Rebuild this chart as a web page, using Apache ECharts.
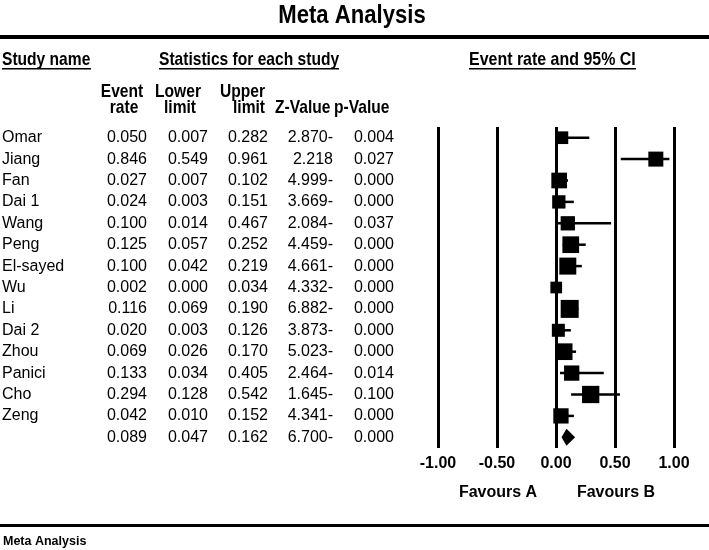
<!DOCTYPE html>
<html>
<head>
<meta charset="utf-8">
<script src="https://cdn.jsdelivr.net/npm/echarts@6/dist/echarts.min.js"></script>
<style>html,body{margin:0;padding:0;background:#fff}#chart{width:709px;height:550px}</style>
</head>
<body>
<div id="chart"></div>
<script>
// ---- data ----
const studies = ['Omar','Jiang','Fan','Dai 1','Wang','Peng','El-sayed','Wu','Li','Dai 2','Zhou','Panici','Cho','Zeng'];
const eventRate  = [0.050,0.846,0.027,0.024,0.100,0.125,0.100,0.002,0.116,0.020,0.069,0.133,0.294,0.042];
const lowerLimit = [0.007,0.549,0.007,0.003,0.014,0.057,0.042,0.000,0.069,0.003,0.026,0.034,0.128,0.010];
const upperLimit = [0.282,0.961,0.102,0.151,0.467,0.252,0.219,0.034,0.190,0.126,0.170,0.405,0.542,0.152];
const zValue     = [-2.870,2.218,-4.999,-3.669,-2.084,-4.459,-4.661,-4.332,-6.882,-3.873,-5.023,-2.464,-1.645,-4.341];
const pValue     = [0.004,0.027,0.000,0.000,0.037,0.000,0.000,0.000,0.000,0.000,0.000,0.014,0.100,0.000];
const relWeight  = [4.95,6.92,7.56,5.44,6.27,8.58,8.88,4.21,9.96,5.20,8.58,7.19,9.19,7.19];
const summaryRate = 0.089, summaryLower = 0.047, summaryUpper = 0.162, summaryZ = -6.700, summaryP = 0.000;
const xTicks = [-1.00,-0.50,0.00,0.50,1.00];

// ---- styling ----
const SANS = "'Liberation Sans',Arial,sans-serif";
const rows = studies.concat(['Overall']);
const allRate = eventRate.concat([summaryRate]);
const allLower = lowerLimit.concat([summaryLower]);
const allUpper = upperLimit.concat([summaryUpper]);
const allZ = zValue.concat([summaryZ]);
const allP = pValue.concat([summaryP]);
const maxW = Math.max.apply(null, relWeight);
const fmtZ = v => v < 0 ? Math.abs(v).toFixed(3) + '-' : v.toFixed(3);

const chart = echarts.init(document.getElementById('chart'), null, {renderer: 'canvas'});

function txt(text, x, y, font, align, sx) {
  return {type: 'text', silent: true, x: x, y: y, scaleX: sx || 1, originX: 0, originY: 0,
    style: {text: text, x: 0, y: 0, font: font, fill: '#000', textAlign: align || 'left', textVerticalAlign: 'middle', align: align || 'left', verticalAlign: 'middle'}};
}
const hdr = 'bold 19px ' + SANS;
const SQ = 0.82; // condensed header look

const option = {
  animation: false,
  backgroundColor: '#fff',
  grid: {left: 438, width: 236, top: 127, height: 321, containLabel: false},
  xAxis: {
    type: 'value', min: -1, max: 1, interval: 0.5,
    axisLine: {show: false}, axisTick: {show: false},
    splitLine: {show: true, lineStyle: {color: '#000', width: 3}},
    axisLabel: {formatter: v => v.toFixed(2), color: '#000', fontFamily: SANS, fontSize: 16, fontWeight: 'bold', margin: 8}
  },
  yAxis: {
    type: 'category', data: rows, inverse: true,
    axisLine: {show: false}, axisTick: {show: false}, axisLabel: {show: false}, splitLine: {show: false}
  },
  graphic: [
    txt('Meta Analysis', 352, 16, 'bold 26px ' + SANS, 'center', 0.85),
    {type: 'rect', silent: true, shape: {x: 0, y: 35, width: 709, height: 4}, style: {fill: '#000'}},
    {type: 'rect', silent: true, shape: {x: 0, y: 524, width: 709, height: 3}, style: {fill: '#000'}},
    txt('Study name', 2, 60, hdr, 'left', SQ),
    {type: 'rect', silent: true, shape: {x: 2, y: 68, width: 89, height: 1.5}, style: {fill: '#000'}},
    txt('Statistics for each study', 159, 60, hdr, 'left', SQ),
    {type: 'rect', silent: true, shape: {x: 159, y: 68, width: 180, height: 1.5}, style: {fill: '#000'}},
    txt('Event rate and 95% CI', 469, 60, hdr, 'left', 0.84),
    {type: 'rect', silent: true, shape: {x: 469, y: 68, width: 167, height: 1.5}, style: {fill: '#000'}},
    txt('Event', 122, 92, hdr, 'center', SQ),
    txt('rate', 124, 108, hdr, 'center', SQ),
    txt('Lower', 178, 92, hdr, 'center', SQ),
    txt('limit', 180, 108, hdr, 'center', SQ),
    txt('Upper', 265, 92, hdr, 'right', SQ),
    txt('limit', 265, 108, hdr, 'right', SQ),
    txt('Z-Value', 275, 108, hdr, 'left', SQ),
    txt('p-Value', 334, 108, hdr, 'left', SQ),
    txt('Favours A', 498, 493, 'bold 16px ' + SANS, 'center'),
    txt('Favours B', 616, 493, 'bold 16px ' + SANS, 'center'),
    txt('Meta Analysis', 3, 542, 'bold 12.5px ' + SANS)
  ],
  series: [
    {
      // table text columns, one row per study, placed on the y category axis
      type: 'custom', silent: true, clip: false,
      data: rows.map((r, i) => [allRate[i], i]),
      renderItem: function (params, api) {
        const i = params.dataIndex;
        const y = api.coord([0, i])[1];
        const f = '16px ' + SANS;
        return {type: 'group', children: [
          txt(i < studies.length ? studies[i] : '', 2, y, f),
          txt(allRate[i].toFixed(3), 147, y, f, 'right'),
          txt(allLower[i].toFixed(3), 208, y, f, 'right'),
          txt(allUpper[i].toFixed(3), 268, y, f, 'right'),
          txt(fmtZ(allZ[i]), 333, y, f, 'right'),
          txt(allP[i].toFixed(3), 394, y, f, 'right')
        ]};
      }
    },
    {
      // study CIs and weight squares
      type: 'custom', silent: true, clip: false,
      data: studies.map((s, i) => [eventRate[i], i, lowerLimit[i], upperLimit[i], relWeight[i]]),
      renderItem: function (params, api) {
        const c = api.coord([api.value(0), api.value(1)]);
        const lo = api.coord([api.value(2), api.value(1)]);
        const hi = api.coord([api.value(3), api.value(1)]);
        const side = 18 * Math.sqrt(api.value(4) / maxW);
        return {type: 'group', children: [
          {type: 'line', shape: {x1: lo[0], y1: c[1], x2: hi[0], y2: c[1]}, style: {stroke: '#000', lineWidth: 2.5}},
          {type: 'rect', shape: {x: c[0] - side / 2, y: c[1] - side / 2, width: side, height: side}, style: {fill: '#000'}}
        ]};
      }
    },
    {
      // summary diamond
      type: 'custom', silent: true, clip: false,
      data: [[summaryRate, studies.length, summaryLower, summaryUpper]],
      renderItem: function (params, api) {
        const c = api.coord([api.value(0), api.value(1)]);
        const lo = api.coord([api.value(2), api.value(1)]);
        const hi = api.coord([api.value(3), api.value(1)]);
        const h = 8.5;
        return {type: 'polygon', shape: {points: [[lo[0], c[1]], [c[0], c[1] - h], [hi[0], c[1]], [c[0], c[1] + h]]}, style: {fill: '#000'}};
      }
    }
  ]
};
chart.setOption(option);
</script>
</body>
</html>
